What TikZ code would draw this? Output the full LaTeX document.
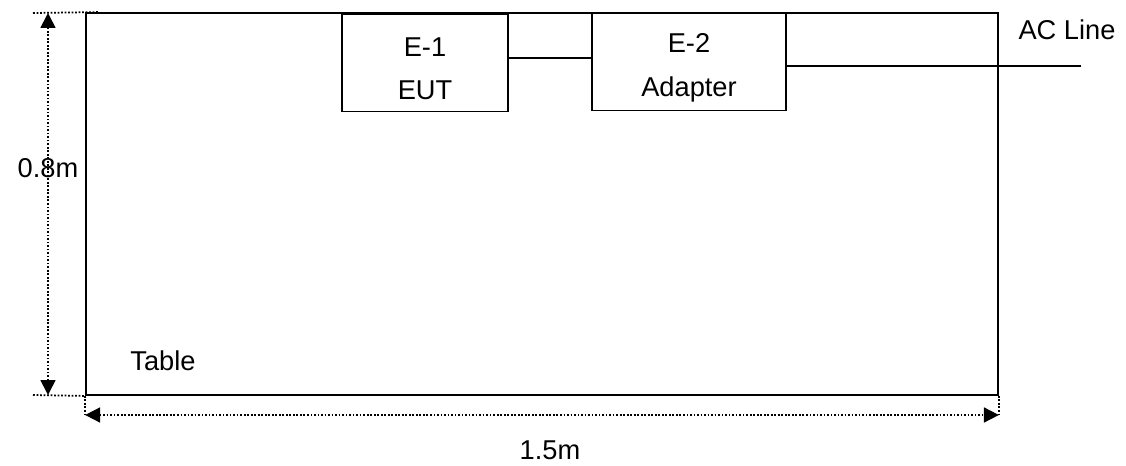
\documentclass[tikz,border=0pt]{standalone}
\usepackage{fontspec}
\setmainfont{Liberation Sans}
\usepackage{tikz}
\usetikzlibrary{arrows.meta, positioning, calc}

\begin{document}
\begin{tikzpicture}[
  x=0.02cm, y=-0.02cm,
  every node/.style={font=\fontsize{15.5}{18.6}\selectfont},
  unit/.style={draw, line width=0.9pt, align=center, inner sep=0pt, minimum height=1.94cm},
  cable/.style={line width=0.8pt},
  dim/.style={densely dotted, line width=1pt, {Triangle[length=0.3cm, width=0.3cm]}-{Triangle[length=0.3cm, width=0.3cm]}},
  ext/.style={densely dotted, line width=1pt}
]
  \useasboundingbox (0,0) rectangle (1126,466);

  % table outline
  \node[draw, line width=1.1pt, minimum width=18.24cm, minimum height=7.64cm, inner sep=0pt] (table) at (542,204) {};
  \node (tablelbl) at (163,361) {Table};

  % equipment
  \node[unit, minimum width=3.32cm] (eut) at (425,63) {\rule{0pt}{17.5pt}E-1\\[6pt]EUT};
  \node[unit, minimum width=3.88cm] (adapter) at (689,62) {\rule{0pt}{17.5pt}E-2\\[6pt]Adapter};

  \coordinate (link) at (550,58);
  \coordinate (acend) at (1081,66);
  \node (acline) at (1067,30) {AC Line};

  \draw[cable] (eut.east |- link) -- (adapter.west |- link);
  \draw[cable] (adapter.east |- acend) -- (acend);

  % dimensions
  \coordinate (htop) at (33,13);
  \coordinate (hbot) at (33,395);
  \coordinate (vleft) at (table.south west |- 0,415);
  \coordinate (vright) at (table.south east |- 0,415);

  \draw[ext] (htop) -- ($(table.north west)+(14,0)$);
  \draw[ext] (hbot) -- (table.south west);
  \draw[ext] (table.south west) -- (vleft);
  \draw[ext] (table.south east) -- (vright);

  \draw[dim] (48,395) -- (48,13);
  \draw[dim] (vleft) -- (vright);

  \node (height) at (48,168) {0.8m};
  \node (width) at (550,450) {1.5m};
\end{tikzpicture}
\end{document}
